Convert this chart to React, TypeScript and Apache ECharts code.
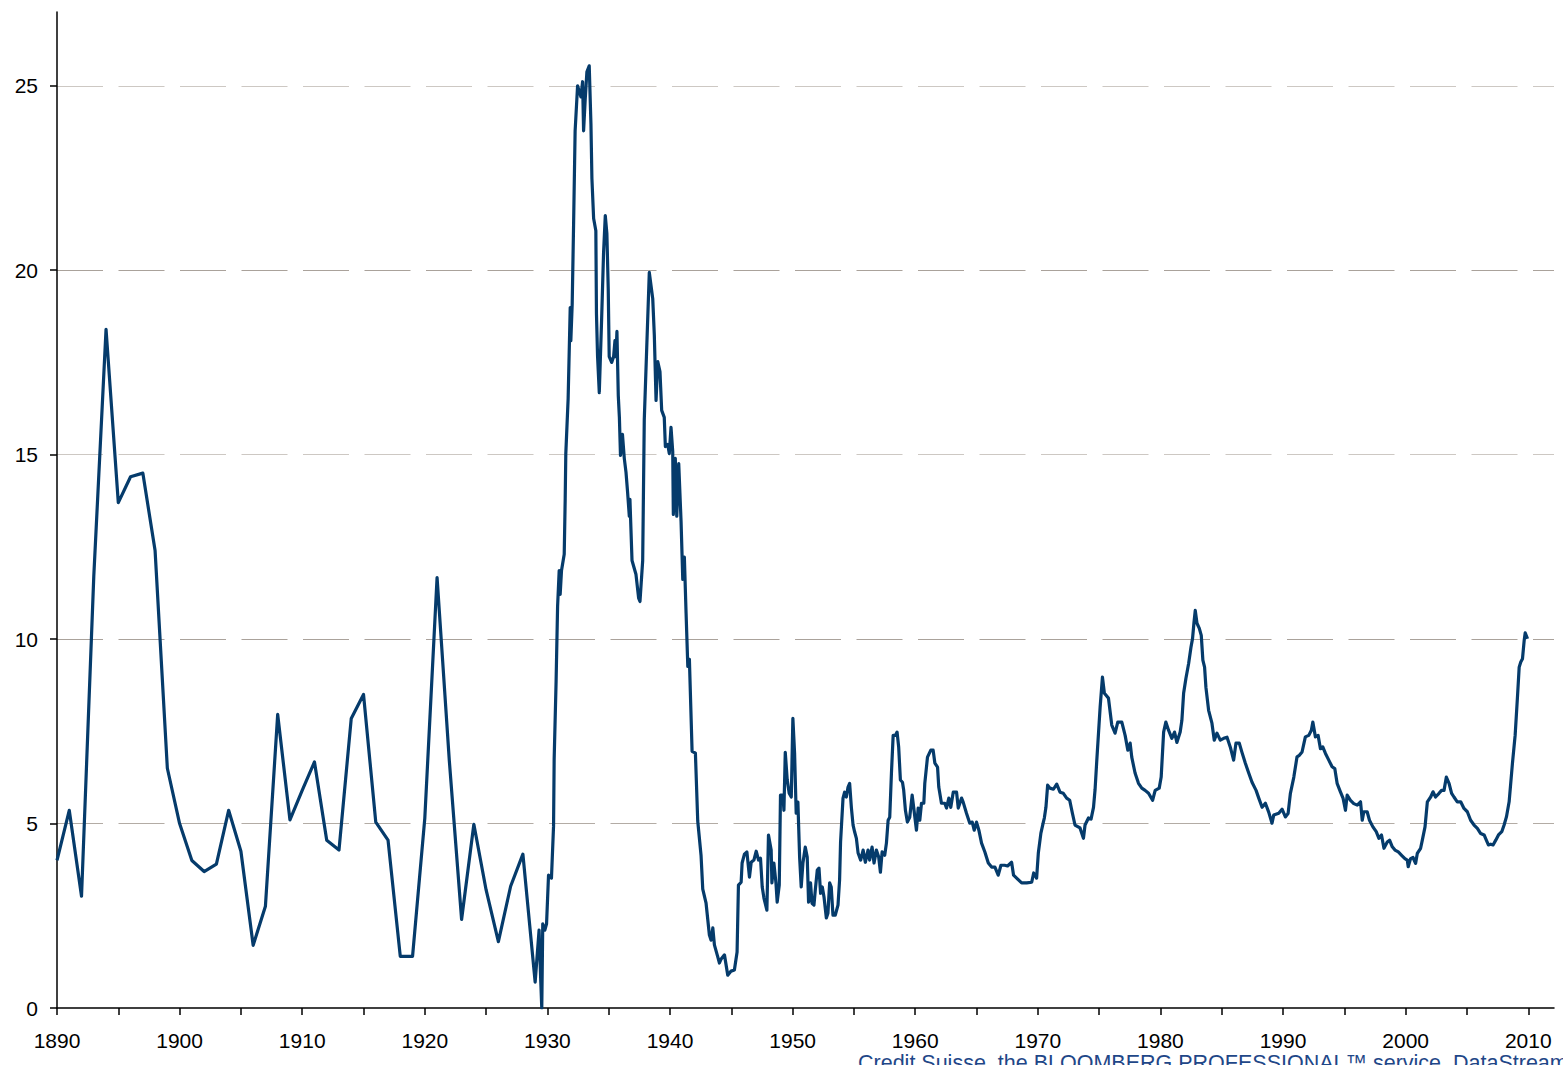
import React, { useEffect, useRef } from "react";
import * as echarts from "echarts";

// Annual observations 1890-1929
const annualYears = [
  1890, 1891, 1892, 1893, 1894, 1895, 1896, 1897, 1898, 1899,
  1900, 1901, 1902, 1903, 1904, 1905, 1906, 1907, 1908, 1909,
  1910, 1911, 1912, 1913, 1914, 1915, 1916, 1917, 1918, 1919,
  1920, 1921, 1922, 1923, 1924, 1925, 1926, 1927, 1928, 1929,
];
const annualValues = [
  4.0, 5.36, 3.03, 11.7, 18.4, 13.7, 14.4, 14.5, 12.4, 6.5,
  5.0, 4.0, 3.7, 3.9, 5.36, 4.25, 1.7, 2.76, 7.96, 5.1,
  5.9, 6.67, 4.55, 4.28, 7.85, 8.5, 5.04, 4.55, 1.4, 1.4,
  5.15, 11.67, 6.7, 2.4, 4.98, 3.2, 1.8, 3.3, 4.17, 0.7,
];

// Higher-frequency observations from 1929 onwards
const monthlyYears = [
  1929.32, 1929.46, 1929.54, 1929.62, 1929.79, 1929.93, 1930.09, 1930.33, 1930.5, 1930.55,
  1930.71, 1930.83, 1930.96, 1931.04, 1931.15, 1931.37, 1931.45, 1931.5, 1931.69, 1931.86,
  1931.91, 1932.02, 1932.13, 1932.26, 1932.46, 1932.73, 1932.87, 1932.95, 1933.08, 1933.22,
  1933.41, 1933.55, 1933.63, 1933.77, 1933.95, 1934.0, 1934.09, 1934.23, 1934.42, 1934.58,
  1934.72, 1934.85, 1934.96, 1935.04, 1935.24, 1935.4, 1935.51, 1935.59, 1935.67, 1935.78,
  1935.87, 1935.96, 1936.12, 1936.27, 1936.41, 1936.54, 1936.68, 1936.73, 1936.9, 1937.22,
  1937.44, 1937.55, 1937.77, 1937.9, 1938.1, 1938.31, 1938.59, 1938.72, 1938.86, 1939.0,
  1939.18, 1939.32, 1939.53, 1939.62, 1939.81, 1939.94, 1940.08, 1940.22, 1940.27, 1940.43,
  1940.55, 1940.71, 1940.9, 1941.04, 1941.17, 1941.31, 1941.45, 1941.58, 1941.8, 1942.07,
  1942.26, 1942.53, 1942.67, 1942.94, 1943.21, 1943.35, 1943.49, 1943.62, 1943.9, 1944.03,
  1944.17, 1944.44, 1944.71, 1944.98, 1945.25, 1945.47, 1945.58, 1945.8, 1945.88, 1946.07,
  1946.27, 1946.48, 1946.62, 1946.84, 1947.03, 1947.22, 1947.38, 1947.52, 1947.66, 1947.9,
  1948.03, 1948.25, 1948.31, 1948.47, 1948.64, 1948.74, 1948.91, 1949.01, 1949.21, 1949.29,
  1949.4, 1949.56, 1949.72, 1949.89, 1950.02, 1950.16, 1950.29, 1950.43, 1950.57, 1950.7,
  1950.84, 1951.03, 1951.19, 1951.3, 1951.46, 1951.58, 1951.74, 1951.85, 1952.01, 1952.15,
  1952.28, 1952.42, 1952.56, 1952.75, 1952.88, 1953.02, 1953.15, 1953.29, 1953.48, 1953.7,
  1953.83, 1953.91, 1954.11, 1954.24, 1954.38, 1954.52, 1954.65, 1954.79, 1954.93, 1955.06,
  1955.2, 1955.34, 1955.55, 1955.75, 1955.93, 1956.15, 1956.28, 1956.48, 1956.64, 1956.83,
  1957.02, 1957.16, 1957.3, 1957.51, 1957.65, 1957.79, 1957.92, 1958.06, 1958.2, 1958.38,
  1958.52, 1958.65, 1958.79, 1958.96, 1959.06, 1959.2, 1959.36, 1959.55, 1959.75, 1959.88,
  1960.1, 1960.24, 1960.37, 1960.51, 1960.7, 1960.78, 1961.0, 1961.27, 1961.46, 1961.6,
  1961.82, 1961.92, 1962.14, 1962.41, 1962.55, 1962.74, 1962.9, 1963.1, 1963.37, 1963.51,
  1963.78, 1963.91, 1964.18, 1964.45, 1964.65, 1964.81, 1965.0, 1965.19, 1965.41, 1965.68,
  1965.96, 1966.23, 1966.5, 1966.77, 1966.99, 1967.29, 1967.53, 1967.86, 1968.02, 1968.27,
  1968.68, 1969.09, 1969.5, 1969.66, 1969.9, 1970.04, 1970.25, 1970.45, 1970.53, 1970.66,
  1970.8, 1970.99, 1971.27, 1971.54, 1971.81, 1972.08, 1972.35, 1972.6, 1972.82, 1973.03,
  1973.44, 1973.72, 1973.85, 1974.13, 1974.34, 1974.54, 1974.67, 1974.81, 1975.08, 1975.27,
  1975.43, 1975.76, 1976.03, 1976.3, 1976.52, 1976.85, 1977.12, 1977.34, 1977.53, 1977.66,
  1977.93, 1978.21, 1978.48, 1978.75, 1979.03, 1979.36, 1979.57, 1979.9, 1980.06, 1980.26,
  1980.44, 1980.66, 1980.93, 1981.15, 1981.34, 1981.61, 1981.75, 1981.89, 1982.08, 1982.3,
  1982.49, 1982.62, 1982.73, 1982.84, 1982.98, 1983.17, 1983.33, 1983.46, 1983.6, 1983.71,
  1983.93, 1984.2, 1984.39, 1984.61, 1984.88, 1985.16, 1985.43, 1985.7, 1985.97, 1986.16,
  1986.43, 1986.65, 1986.92, 1987.2, 1987.47, 1987.8, 1988.02, 1988.29, 1988.56, 1988.83,
  1989.1, 1989.24, 1989.65, 1989.92, 1990.19, 1990.41, 1990.6, 1990.88, 1991.14, 1991.33,
  1991.55, 1991.82, 1992.1, 1992.31, 1992.43, 1992.64, 1992.86, 1993.05, 1993.24, 1993.46,
  1993.73, 1994.0, 1994.22, 1994.41, 1994.68, 1994.9, 1995.09, 1995.23, 1995.5, 1995.77,
  1996.05, 1996.32, 1996.46, 1996.59, 1996.86, 1997.05, 1997.33, 1997.6, 1997.82, 1998.03,
  1998.23, 1998.5, 1998.69, 1998.91, 1999.13, 1999.4, 1999.67, 1999.94, 2000.13, 2000.21,
  2000.4, 2000.6, 2000.81, 2000.95, 2001.22, 2001.36, 2001.58, 2001.77, 2002.04, 2002.23,
  2002.44, 2002.72, 2002.93, 2003.13, 2003.32, 2003.54, 2003.75, 2003.94, 2004.21, 2004.49,
  2004.76, 2005.03, 2005.3, 2005.58, 2005.85, 2006.12, 2006.4, 2006.58, 2006.75, 2006.94,
  2007.13, 2007.35, 2007.57, 2007.84, 2008.03, 2008.22, 2008.44, 2008.71, 2008.93, 2009.12,
  2009.26, 2009.39, 2009.53, 2009.67, 2009.75, 2009.94,
];
const monthlyValues = [
  2.11, 0.7, 0.0, 2.28, 2.11, 2.28, 3.6, 3.52, 4.93, 6.74,
  8.88, 10.89, 11.86, 11.21, 11.86, 12.3, 13.79, 15.03, 16.52, 18.99,
  18.09, 19.07, 21.15, 23.78, 25.0, 24.7, 25.11, 23.78, 24.62, 25.38,
  25.54, 23.97, 22.48, 21.4, 21.07, 18.82, 17.66, 16.68, 18.66, 20.48,
  21.48, 20.99, 19.5, 17.66, 17.5, 17.66, 18.09, 17.66, 18.34, 16.6,
  16.01, 14.98, 15.55, 14.9, 14.52, 13.98, 13.33, 13.79, 12.13, 11.76,
  11.11, 11.02, 12.13, 15.95, 17.9, 19.94, 19.23, 18.23, 16.47, 17.52,
  17.25, 16.2, 16.01, 15.22, 15.28, 15.03, 15.74, 15.09, 13.38, 14.9,
  13.33, 14.76, 13.19, 11.62, 12.22, 10.7, 9.26, 9.45, 6.96, 6.91,
  5.07, 4.14, 3.22, 2.84, 1.98, 1.84, 2.17, 1.71, 1.38, 1.22,
  1.33, 1.44, 0.89, 1.0, 1.03, 1.52, 3.33, 3.41, 3.93, 4.17,
  4.23, 3.55, 3.95, 4.01, 4.25, 4.01, 4.06, 3.28, 2.98, 2.65,
  4.69, 4.28, 3.39, 3.93, 3.39, 2.87, 3.33, 5.77, 5.77, 5.36,
  6.93, 6.18, 5.82, 5.72, 7.85, 6.91, 5.28, 5.58, 4.09, 3.28,
  3.93, 4.36, 4.09, 2.87, 3.39, 2.84, 2.79, 3.2, 3.74, 3.79,
  3.11, 3.28, 3.01, 2.44, 2.57, 3.39, 3.28, 2.52, 2.52, 2.79,
  3.47, 4.5, 5.69, 5.85, 5.72, 5.99, 6.09, 5.44, 4.96, 4.77,
  4.6, 4.2, 4.01, 4.28, 3.95, 4.28, 4.01, 4.36, 3.93, 4.28,
  4.09, 3.68, 4.23, 4.14, 4.47, 5.09, 5.17, 6.37, 7.39, 7.39,
  7.48, 7.07, 6.18, 6.12, 5.9, 5.36, 5.04, 5.17, 5.77, 5.42,
  4.82, 5.42, 5.09, 5.55, 5.55, 6.09, 6.8, 6.99, 6.99, 6.64,
  6.53, 5.99, 5.55, 5.55, 5.42, 5.69, 5.44, 5.85, 5.85, 5.42,
  5.69, 5.58, 5.28, 5.01, 5.04, 4.82, 5.04, 4.82, 4.47, 4.23,
  3.93, 3.82, 3.82, 3.6, 3.87, 3.87, 3.85, 3.95, 3.6, 3.52,
  3.39, 3.39, 3.41, 3.66, 3.52, 4.2, 4.74, 5.04, 5.15, 5.44,
  6.04, 5.96, 5.93, 6.07, 5.85, 5.82, 5.69, 5.63, 5.28, 4.96,
  4.88, 4.6, 4.96, 5.15, 5.12, 5.44, 5.93, 6.72, 8.15, 8.97,
  8.53, 8.4, 7.67, 7.45, 7.75, 7.75, 7.39, 6.99, 7.18, 6.8,
  6.37, 6.09, 5.96, 5.9, 5.82, 5.63, 5.9, 5.96, 6.26, 7.48,
  7.75, 7.53, 7.31, 7.48, 7.2, 7.48, 7.8, 8.53, 8.94, 9.34,
  9.78, 10.02, 10.43, 10.78, 10.43, 10.29, 10.1, 9.43, 9.24, 8.69,
  8.07, 7.72, 7.26, 7.45, 7.26, 7.31, 7.34, 7.07, 6.72, 7.18,
  7.18, 6.93, 6.64, 6.37, 6.12, 5.9, 5.69, 5.44, 5.55, 5.31,
  5.01, 5.23, 5.28, 5.39, 5.18, 5.27, 5.82, 6.26, 6.81, 6.85,
  6.94, 7.35, 7.39, 7.53, 7.75, 7.35, 7.39, 7.03, 7.08, 6.9,
  6.72, 6.54, 6.49, 6.09, 5.86, 5.68, 5.36, 5.77, 5.63, 5.54,
  5.5, 5.59, 5.09, 5.32, 5.32, 5.09, 4.91, 4.78, 4.6, 4.69,
  4.33, 4.5, 4.55, 4.37, 4.28, 4.23, 4.14, 4.05, 4.01, 3.83,
  4.05, 4.08, 3.92, 4.19, 4.33, 4.55, 4.91, 5.59, 5.72, 5.86,
  5.72, 5.82, 5.9, 5.9, 6.26, 6.09, 5.82, 5.72, 5.59, 5.59,
  5.41, 5.32, 5.09, 4.96, 4.87, 4.73, 4.69, 4.55, 4.42, 4.44,
  4.42, 4.55, 4.69, 4.78, 4.96, 5.18, 5.59, 6.63, 7.39, 8.43,
  9.24, 9.38, 9.47, 9.97, 10.17, 10.01,
];

const xTickValues = [
  1890, 1895, 1900, 1905, 1910, 1915, 1920, 1925, 1930, 1935, 1940, 1945, 1950,
  1955, 1960, 1965, 1970, 1975, 1980, 1985, 1990, 1995, 2000, 2005, 2010,
];
const xLabelValues = [
  1890, 1900, 1910, 1920, 1930, 1940, 1950, 1960, 1970, 1980, 1990, 2000, 2010,
];
const yTickValues = [0, 5, 10, 15, 20, 25];

const sourceText = "Credit Suisse, the BLOOMBERG PROFESSIONAL\u2122 service, DataStream";

export default function App() {
  const ref = useRef<HTMLDivElement>(null);

  useEffect(() => {
    if (!ref.current) return;
    const chart = echarts.init(ref.current, undefined, { renderer: "svg" });

    const data: [number, number][] = [];
    annualYears.forEach((y, i) => data.push([y, annualValues[i]]));
    monthlyYears.forEach((y, i) => data.push([y, monthlyValues[i]]));

    const font = "'Liberation Sans', Arial, Helvetica, sans-serif";

    chart.setOption({
      animation: false,
      backgroundColor: "#ffffff",
      grid: { left: 57, right: 9, top: 12, bottom: 66, containLabel: false },
      xAxis: {
        type: "value",
        min: 1890,
        max: 2012.1,
        interval: 5,
        axisLine: { show: true, onZero: false, lineStyle: { color: "#000", width: 1.5 } },
        axisTick: {
          show: true,
          length: 7,
          customValues: xTickValues,
          lineStyle: { color: "#000", width: 1.5 },
        },
        axisLabel: {
          customValues: xLabelValues,
          formatter: (v: number) => String(Math.round(v)),
          fontSize: 21,
          color: "#000",
          fontFamily: font,
          margin: 22,
        },
        splitLine: { show: false },
      },
      yAxis: {
        type: "value",
        min: 0,
        max: 27,
        interval: 5,
        axisLine: { show: true, onZero: false, lineStyle: { color: "#000", width: 1.5 } },
        axisTick: {
          show: true,
          length: 7,
          customValues: yTickValues,
          lineStyle: { color: "#000", width: 1.5 },
        },
        axisLabel: {
          customValues: yTickValues,
          formatter: (v: number) => String(Math.round(v)),
          fontSize: 21,
          color: "#000",
          fontFamily: font,
          margin: 19,
        },
        splitLine: {
          show: true,
          showMinLine: false,
          showMaxLine: true,
          lineStyle: {
            color: ["#b3aca5", "#aaa29b", "#cdc8c3", "#aaa29b", "#cdc8c3"],
            width: 1.2,
            type: [46, 15.5],
          },
        },
      },
      series: [
        {
          type: "line",
          data,
          symbol: "none",
          showSymbol: false,
          clip: true,
          lineStyle: { color: "#053b6b", width: 3.2, join: "round" },
          itemStyle: { color: "#053b6b" },
          z: 3,
        },
      ],
      graphic: [
        {
          type: "text",
          left: 858,
          top: 1052,
          z: 10,
          style: {
            text: sourceText,
            fill: "#1f4788",
            font: `21.5px ${font}`,
          },
        },
        {
          type: "rect",
          left: 840,
          top: 1065,
          z: 20,
          shape: { width: 730, height: 20 },
          style: { fill: "#ffffff" },
        },
      ],
    });

    return () => chart.dispose();
  }, []);

  return (
    <div
      ref={ref}
      style={{ position: "fixed", left: 0, top: 0, width: 1563, height: 1074, background: "#fff" }}
    />
  );
}
